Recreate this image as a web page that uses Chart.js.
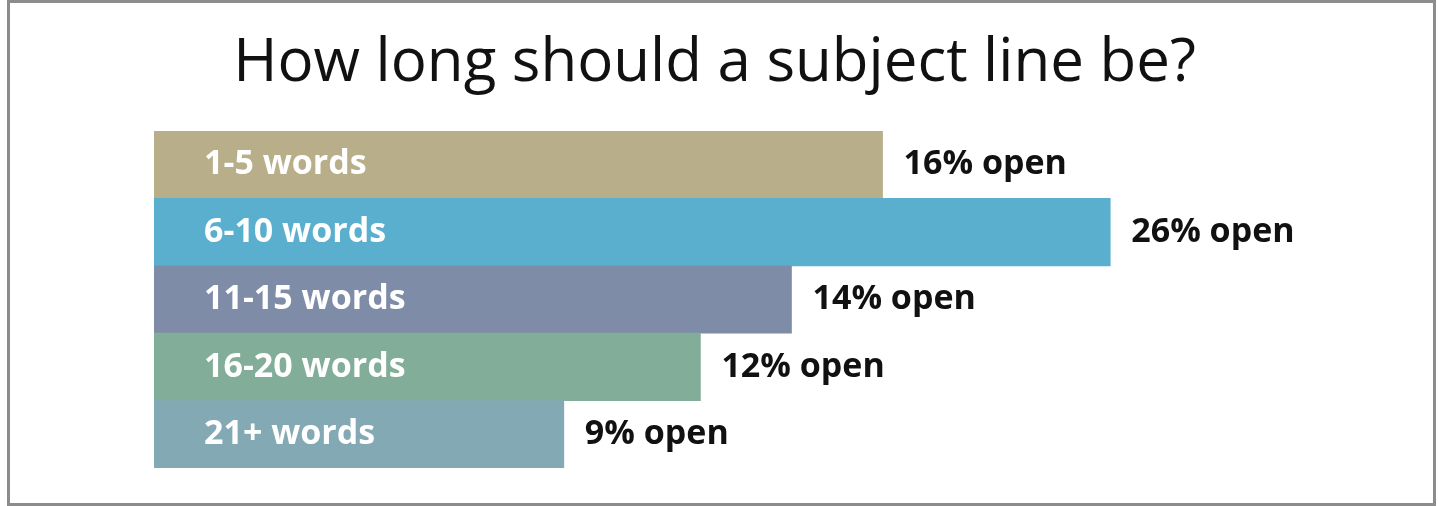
<!DOCTYPE html>
<html>
<head>
<meta charset="utf-8">
<script src="https://cdn.jsdelivr.net/npm/chart.js@4.4.0/dist/chart.umd.min.js"></script>
<style>
    html, body { margin: 0; padding: 0; background: #fff; }
    #wrap { position: relative; width: 1438px; height: 506px; }
    #frame {
        position: absolute; left: 7px; top: 0; width: 1429px; height: 506px;
        box-sizing: border-box; border: 3px solid #8c8c8c; pointer-events: none;
    }
</style>
</head>
<body>
<div id="wrap">
    <canvas id="chart" width="1438" height="506"></canvas>
    <div id="frame"></div>
</div>
<script>
var categories = ["1-5 words", "6-10 words", "11-15 words", "16-20 words", "21+ words"];
// bar lengths as drawn in the picture (the 6-10 bar is drawn shorter than its label)
var barLengths = [16, 21, 14, 12, 9];
var openLabels = ["16% open", "26% open", "14% open", "12% open", "9% open"];
var barColors = ["#b8ae89", "#5aafce", "#7f8ca8", "#82ad98", "#82a9b4"];

var barLabelsPlugin = {
    id: "barLabels",
    afterDatasetsDraw: function(chart) {
        var ctx = chart.ctx;
        var meta = chart.getDatasetMeta(0);
        ctx.save();
        ctx.font = "bold 34px 'Open Sans'";
        ctx.textBaseline = "middle";
        meta.data.forEach(function(bar, i) {
            ctx.fillStyle = "#ffffff";
            ctx.textAlign = "left";
            ctx.fillText(categories[i], bar.base + 50, bar.y);
            ctx.fillStyle = "#111111";
            ctx.fillText(openLabels[i], bar.x + 21, bar.y);
        });
        ctx.restore();
    }
};

var ctx = document.getElementById("chart").getContext("2d");
new Chart(ctx, {
    type: "bar",
    data: {
        labels: categories,
        datasets: [{
            data: barLengths,
            backgroundColor: barColors,
            borderWidth: 0,
            barPercentage: 1,
            categoryPercentage: 1
        }]
    },
    options: {
        indexAxis: "y",
        responsive: false,
        animation: false,
        layout: { padding: { left: 0, right: 9, top: 0, bottom: 38 } },
        scales: {
            x: {
                display: false,
                min: 0,
                max: 28
            },
            y: {
                grid: { display: false },
                border: { display: false },
                ticks: { display: false },
                afterFit: function(scale) { scale.width = 154; }
            }
        },
        plugins: {
            legend: { display: false },
            tooltip: { enabled: false },
            title: {
                display: true,
                text: "How long should a subject line be?",
                color: "#111111",
                font: { family: "'Open Sans'", size: 60, weight: "normal", lineHeight: 1.2 },
                padding: { top: 28, bottom: 31 }
            }
        }
    },
    plugins: [barLabelsPlugin]
});
</script>
</body>
</html>
